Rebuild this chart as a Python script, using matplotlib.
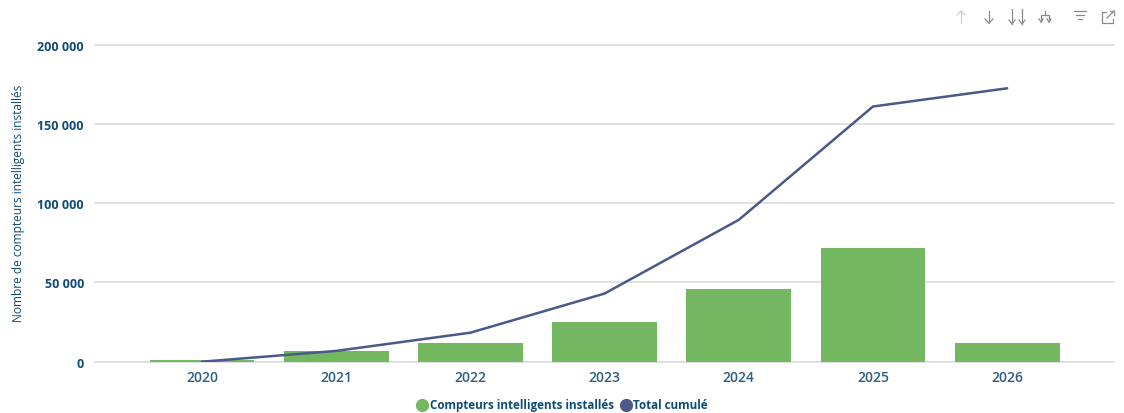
import matplotlib
matplotlib.use("Agg")
import matplotlib.pyplot as plt
from matplotlib.lines import Line2D
from matplotlib.ticker import FuncFormatter

years = ['2020', '2021', '2022', '2023', '2024', '2025', '2026']
installed = [1000, 6500, 11500, 25000, 46000, 72000, 11500]
cumulated = [0, 6800, 18300, 43000, 89500, 161000, 172500]
y_ticks = [0, 50000, 100000, 150000, 200000]

W, H = 1124, 414
plt.rcParams['font.family'] = ['Open Sans', 'DejaVu Sans']

fig = plt.figure(figsize=(W / 100, H / 100), dpi=100)
ax = fig.add_axes([95 / W, 1 - 362.7 / H, (1114 - 95) / W, (362.7 - 45.7) / H])

x = list(range(len(years)))
ax.bar(x, installed, width=0.78, color='#73B761', zorder=2)
ax.plot(x, cumulated, color='#4A588A', linewidth=1.8, zorder=3, solid_capstyle='round')

ax.set_xlim(-0.797, 6.796)
ax.set_ylim(0, 200000)
ax.set_xticks(x)
ax.set_xticklabels(years, fontsize=10, fontweight='semibold', color='#2F5D85')
ax.set_yticks(y_ticks)
ax.yaxis.set_major_formatter(FuncFormatter(lambda v, p: f'{int(v):,}'.replace(',', ' ')))
ax.tick_params(axis='y', length=0, pad=8, labelsize=9, labelcolor='#0F4C75')
for lab in ax.get_yticklabels():
    lab.set_fontweight('bold')
ax.tick_params(axis='x', length=0, pad=6)
ax.grid(axis='y', color='#D8D8D8', linewidth=1.1, zorder=1)
ax.set_axisbelow(True)
for s in ax.spines.values():
    s.set_visible(False)
for t in ax.yaxis.get_gridlines():
    t.set_clip_on(False)

fig.text(18.5 / W, 1 - 203 / H, 'Nombre de compteurs intelligents installés', rotation=90,
         ha='center', va='center', fontsize=8.6, color='#0F4C75')

# legend
fig.add_artist(Line2D([422 / W], [1 - 406 / H], marker='o', markersize=8.5, color='#73B761', linestyle='none'))
fig.text(429.5 / W, 1 - 406 / H, 'Compteurs intelligents installés', ha='left', va='center',
         fontsize=8.4, fontweight='bold', color='#0F4C75')
fig.add_artist(Line2D([626 / W], [1 - 406 / H], marker='o', markersize=8.5, color='#4A588A', linestyle='none'))
fig.text(633.5 / W, 1 - 406 / H, 'Total cumulé', ha='left', va='center',
         fontsize=8.4, fontweight='bold', color='#0F4C75')


# toolbar icons, pixel coordinates
def seg(xs, ys, c='#8A8A8A'):
    fig.add_artist(Line2D([v / W for v in xs], [1 - v / H for v in ys], color=c, linewidth=0.9))


def arrow(cx, c='#8A8A8A'):
    seg([cx, cx], [12, 24], c)
    seg([cx - 4, cx, cx + 4], [20, 24, 20], c)


seg([961, 961], [12, 24], '#CFCFCF')
seg([957, 961, 965], [16, 12, 16], '#CFCFCF')
arrow(989)
seg([1012, 1012], [10, 25])
seg([1009, 1012, 1015], [21, 25, 21])
seg([1022, 1022], [10, 25])
seg([1019, 1022, 1025], [21, 25, 21])
seg([1045, 1045], [12, 16])
seg([1041, 1041, 1049, 1049], [23, 16, 16, 23])
seg([1039, 1041, 1043], [20, 23, 20])
seg([1047, 1049, 1051], [20, 23, 20])
seg([1074, 1086], [12, 12])
seg([1076, 1084], [16, 16])
seg([1078, 1082], [20, 20])
seg([1106, 1102, 1102, 1113, 1113], [13, 13, 24, 24, 20])
seg([1107, 1114], [19, 12])
seg([1110, 1114, 1114], [12, 12, 16])

fig.savefig('out.png', dpi=100)
